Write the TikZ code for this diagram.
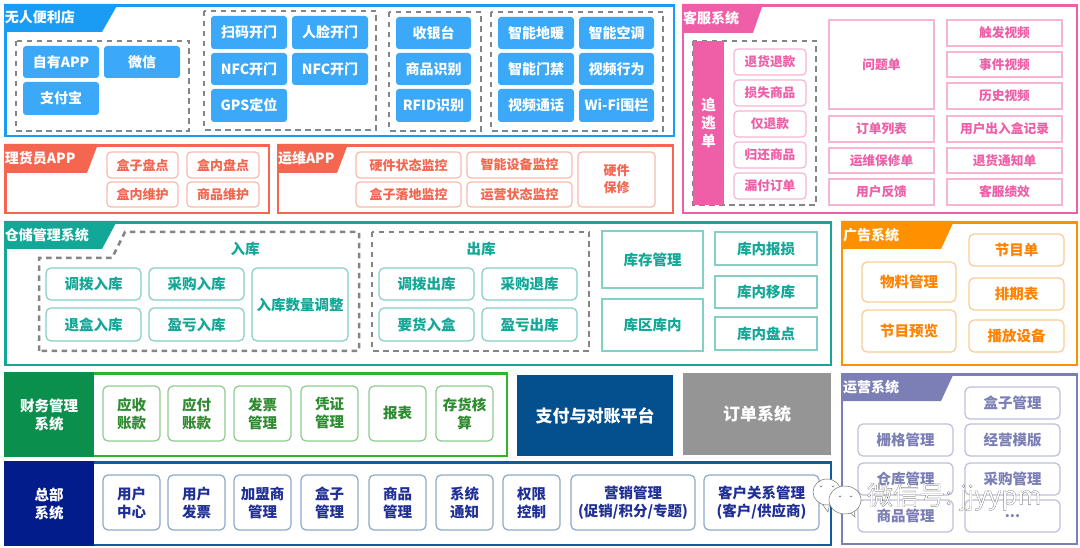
\documentclass[tikz,border=0pt]{standalone}
\usepackage{fontspec}
\setmainfont{Noto Sans CJK SC}
\newfontfamily\wmfont[FakeBold=0.4]{Noto Sans CJK SC}
\definecolor{shopblue}{HTML}{1A9CF5}
\definecolor{chipblue}{HTML}{3BA9F7}
\definecolor{appred}{HTML}{F4664F}
\definecolor{appredl}{HTML}{F9B9AE}
\definecolor{servpink}{HTML}{EE5FA7}
\definecolor{servpinkl}{HTML}{F6B5D5}
\definecolor{storeteal}{HTML}{13A797}
\definecolor{storetealer}{HTML}{84CFC6}
\definecolor{adorange}{HTML}{FF9100}
\definecolor{adorangel}{HTML}{FBCB94}
\definecolor{opsviolet}{HTML}{7B7FB5}
\definecolor{opsvioletl}{HTML}{BDBFD9}
\definecolor{fingreen}{HTML}{2DB52C}
\definecolor{findark}{HTML}{0B8F4C}
\definecolor{finl}{HTML}{8ECB8F}
\definecolor{fintext}{HTML}{2E8B30}
\definecolor{hqline}{HTML}{0F5CA5}
\definecolor{hqdark}{HTML}{031C8C}
\definecolor{hql}{HTML}{8DA9C8}
\definecolor{hqtext}{HTML}{1F2F95}
\definecolor{paynavy}{HTML}{04508F}
\definecolor{ordergray}{HTML}{959595}
\definecolor{dashgray}{HTML}{858585}
\tikzset{
  plain/.style={inner sep=0pt,outer sep=0pt,align=center,font=\bfseries\fontsize{14}{18}\selectfont},
  frame/.style={plain,draw,fill=white,line width=2.8pt},
  dashzone/.style={draw=dashgray,line width=2.5pt,dash pattern=on 5.5pt off 4.5pt},
  headtext/.style={plain,anchor=west,text=white},
  chip/.style={plain,rounded corners=3pt,fill=chipblue,text=white},
  appbox/.style={plain,rounded corners=4pt,draw=appredl,line width=1.2pt,text=appred,font=\bfseries\fontsize{13}{17}\selectfont},
  servbox/.style={plain,rounded corners=4pt,draw=servpinkl,line width=1.2pt,text=servpink,font=\bfseries\fontsize{12.7}{16}\selectfont},
  servsq/.style={servbox,rounded corners=0pt},
  storebox/.style={plain,rounded corners=5pt,draw=storetealer,line width=1.2pt,text=storeteal,font=\bfseries\fontsize{14.5}{18}\selectfont},
  storesq/.style={storebox,rounded corners=0pt},
  adbox/.style={plain,rounded corners=5pt,draw=adorangel,line width=1.2pt,text=adorange!90!red,font=\bfseries\fontsize{14.5}{18}\selectfont},
  opsbox/.style={plain,rounded corners=5pt,draw=opsvioletl,line width=1.2pt,text=opsviolet,font=\bfseries\fontsize{14.5}{18}\selectfont},
  finbox/.style={plain,rounded corners=5pt,draw=finl,line width=1.2pt,text=fintext,font=\bfseries\fontsize{14.5}{18}\selectfont},
  hqbox/.style={plain,rounded corners=5pt,draw=hql,line width=1.2pt,text=hqtext,font=\bfseries\fontsize{14.5}{18}\selectfont},
  block/.style={plain,text=white,font=\bfseries\fontsize{14.5}{18}\selectfont},
  bigblock/.style={plain,text=white,font=\bfseries\fontsize{17}{21}\selectfont},
  bubble/.style={fill=white,draw=black!55,line width=.5pt},
}
% name/x1/y1/x2/y2/text
\newcommand{\putboxes}[2]{
  \foreach \nm/\xa/\ya/\xb/\yb/\txt in {#2}
  {
    \pgfmathsetmacro{\bw}{\xb-\xa}
    \pgfmathsetmacro{\bh}{\yb-\ya}
    \node[#1,minimum width=\bw pt,minimum height=\bh pt] (\nm) at ({(\xa+\xb)/2},{(\ya+\yb)/2}) {\txt};
  }
}
\begin{document}
\begin{tikzpicture}[x=1pt,y=-1pt]
\useasboundingbox (0,0) rectangle (1080,548);
\fill[white] (0,0) rectangle (1080,548);

% frames
\putboxes{frame,draw=shopblue}{shop/5.5/5.5/674/136/{}}
\putboxes{frame,draw=appred}{keeper/5.5/145.5/269/213/{},maint/278/145.5/673/213/{}}
\putboxes{frame,draw=servpink}{serv/683/5.5/1077/213/{}}
\putboxes{frame,draw=storeteal}{store/5.5/222.5/831/365/{}}
\putboxes{frame,draw=adorange}{ad/842/222.5/1077/365/{}}
\putboxes{frame,draw=opsviolet}{ops/842/374.5/1077/544/{}}
\putboxes{frame,draw=fingreen}{fin/5/373.5/507/456/{}}
\putboxes{frame,draw=hqline}{hq/5/462.5/831/545/{}}

% headers
\fill[shopblue] (4,4)--(118,4)--(102,32)--(4,32)--cycle;
\fill[appred] (4,144)--(98,144)--(87,173)--(4,173)--cycle;
\fill[appred] (277,144)--(348,144)--(337,173)--(277,173)--cycle;
\fill[servpink] (682,4)--(763,4)--(753,33)--(682,33)--cycle;
\fill[storeteal] (4,221)--(117,221)--(102,249)--(4,249)--cycle;
\fill[adorange] (841,221)--(954,221)--(941,249)--(841,249)--cycle;
\fill[opsviolet] (841,373)--(954,373)--(941,401)--(841,401)--cycle;
\node[headtext] (shophead) at (5,17) {无人便利店};
\node[headtext] (keeperhead) at (5,158) {理货员APP};
\node[headtext] (mainthead) at (278,158) {运维APP};
\node[headtext] (servhead) at (683,18) {客服系统};
\node[headtext] (storehead) at (5,235) {仓储管理系统};
\node[headtext] (adhead) at (843,235) {广告系统};
\node[headtext] (opshead) at (843,387) {运营系统};

% dashed zones
\draw[dashzone] (16,41) rectangle (189,131);
\draw[dashzone] (204,11) rectangle (376,130);
\draw[dashzone] (389,12) rectangle (481,131);
\draw[dashzone] (491,12) rectangle (663,131);
\draw[dashzone] (39,351)--(39,258)--(112,258)--(125,232)--(359,232)--(359,351)--cycle;
\draw[dashzone] (372,232) rectangle (589,351);
\draw[dashzone] (693,41) rectangle (816,205);

\putboxes{chip}{
  app/23/46/99/78/自有APP, wechat/104/46/180/78/微信, alipay/23/82/99/115/支付宝,
  scan/211/16/287/49/扫码开门, face/292/16/368/49/人脸开门,
  nfca/211/53/287/85/NFC开门, nfcb/292/53/368/85/NFC开门, gps/211/89/287/122/GPS定位,
  till/396/17/471/49/收银台, goods/396/53/471/85/商品识别, rfid/396/89/471/122/RFID识别,
  heat/498/17/574/49/智能地暖, air/579/17/654/49/智能空调,
  gate/498/53/574/85/智能门禁, act/579/53/654/85/视频行为,
  call/498/89/574/122/视频通话, wifi/579/89/654/122/Wi-Fi围栏}

\putboxes{appbox}{
  boxc/107/152/178/178/盒子盘点, inc/187/152/259/178/盒内盘点,
  inm/107/182/178/207/盒内维护, gdm/187/182/259/207/商品维护,
  hws/356/152/461/178/硬件状态监控, dev/467/152/572/178/智能设备监控,
  land/356/182/461/207/盒子落地监控, run/467/182/572/207/运营状态监控,
  hwfix/578/152/655/207/{硬件\\保修}}

\putboxes{servbox}{
  refund/734/49/806/75/退货退款, lost/734/80/806/106/损失商品, only/734/111/806/137/仅退款,
  back/734/142/806/168/归还商品, miss/734/173/806/199/漏付订单}
\putboxes{servsq}{
  issue/829/20/934/109/问题单, olist/829/116/934/142/订单列表,
  fixlist/829/148/934/173/运维保修单, fback/829/179/934/205/用户反馈,
  trig/947/20/1062/46/触发视频, event/947/52/1062/77/事件视频, hist/947/83/1062/109/历史视频,
  inout/947/116/1062/142/用户出入盒记录, retn/947/148/1062/173/退货通知单, perf/947/179/1062/205/客服绩效}
\putboxes{block,fill=servpink}{chase/693/41/724/205/{追\\逃\\单}}

\node[plain,text=storeteal,font=\bfseries\fontsize{14.5}{18}\selectfont] (inlabel) at (245,249) {入库};
\node[plain,text=storeteal,font=\bfseries\fontsize{14.5}{18}\selectfont] (outlabel) at (481,249) {出库};
\putboxes{storebox}{
  allotin/46/268/141/300/调拨入库, buyin/149/268/244/300/采购入库,
  retin/46/308/141/341/退盒入库, gainin/149/308/244/341/盈亏入库,
  qty/252/268/348/341/入库数量调整,
  allotout/379/268/474/300/调拨出库, buyback/482/268/577/300/采购退库,
  reqbox/379/308/474/341/要货入盒, gainout/482/308/577/341/盈亏出库}
\putboxes{storesq}{
  stock/602/231/703/288/库存管理, zone/602/299/703/351/库区库内,
  dmg/715/232/817/265/库内报损, move/715/276/817/308/库内移库, count/715/317/817/350/库内盘点}

\putboxes{adbox}{
  mater/862/262/956/302/物料管理, prev/862/310/956/352/节目预览,
  prog/969/234/1064/266/节目单, sched/969/278/1064/310/排期表, play/969/320/1064/352/播放设备}

\putboxes{opsbox}{
  cell/858/424/953/456/栅格管理, ware/858/463/953/495/仓库管理, gdsm/858/500/953/532/商品管理,
  boxm/965/387/1060/419/盒子管理, tmpl/965/424/1060/456/经营模版,
  buym/965/463/1060/495/采购管理, more/965/500/1060/532/{...}}

\putboxes{block,fill=findark}{finhead/4/372/94/457/{财务管理\\系统}}
\putboxes{finbox}{
  recv/103/386/160/441/{应收\\账款}, pay/168/386/225/441/{应付\\账款},
  bill/234/386/291/441/{发票\\管理}, vouch/301/386/358/441/{凭证\\管理},
  rep/369/386/426/441/报表, inv/436/386/493/441/{存货核\\算}}

\putboxes{bigblock,fill=paynavy}{payplat/517/375/673/456/支付与对账平台}
\putboxes{bigblock,fill=ordergray}{order/683/373/831/455/订单系统}

\putboxes{block,fill=hqdark}{hqhead/4/461/94/546/{总部\\系统}}
\putboxes{hqbox}{
  ucent/103/475/160/530/{用户\\中心}, uinv/168/475/225/530/{用户\\发票},
  fran/234/475/291/530/{加盟商\\管理}, boxh/301/475/358/530/{盒子\\管理},
  gdh/369/475/426/530/{商品\\管理}, note/436/475/493/530/{系统\\通知},
  perm/503/475/560/530/{权限\\控制}, mark/571/475/695/530/{营销管理\\(促销/积分/专题)},
  crm/704/475/819/530/{客户关系管理\\(客户/供应商)}}

% watermark
\filldraw[bubble] (820,501)--(828,512)--(830,502)--cycle;
\filldraw[bubble] (827,492) ellipse (14 and 13);
\filldraw[bubble] (846,509)--(855,517)--(854,507)--cycle;
\filldraw[bubble] (845,500) ellipse (16 and 14);
\foreach \x/\y in {821/485,833/485,840/495,851/495}
{
  \draw[black!55,line width=.6pt] (\x-1.2,\y+.8) arc (180:0:1.2);
}
\node[plain,anchor=west,text=white,font=\wmfont\fontsize{26}{30}\selectfont] (wmark) at (867,497)
  {\special{pdf:code 0.2 G}微信号: jjyypm};
\end{tikzpicture}
\end{document}
